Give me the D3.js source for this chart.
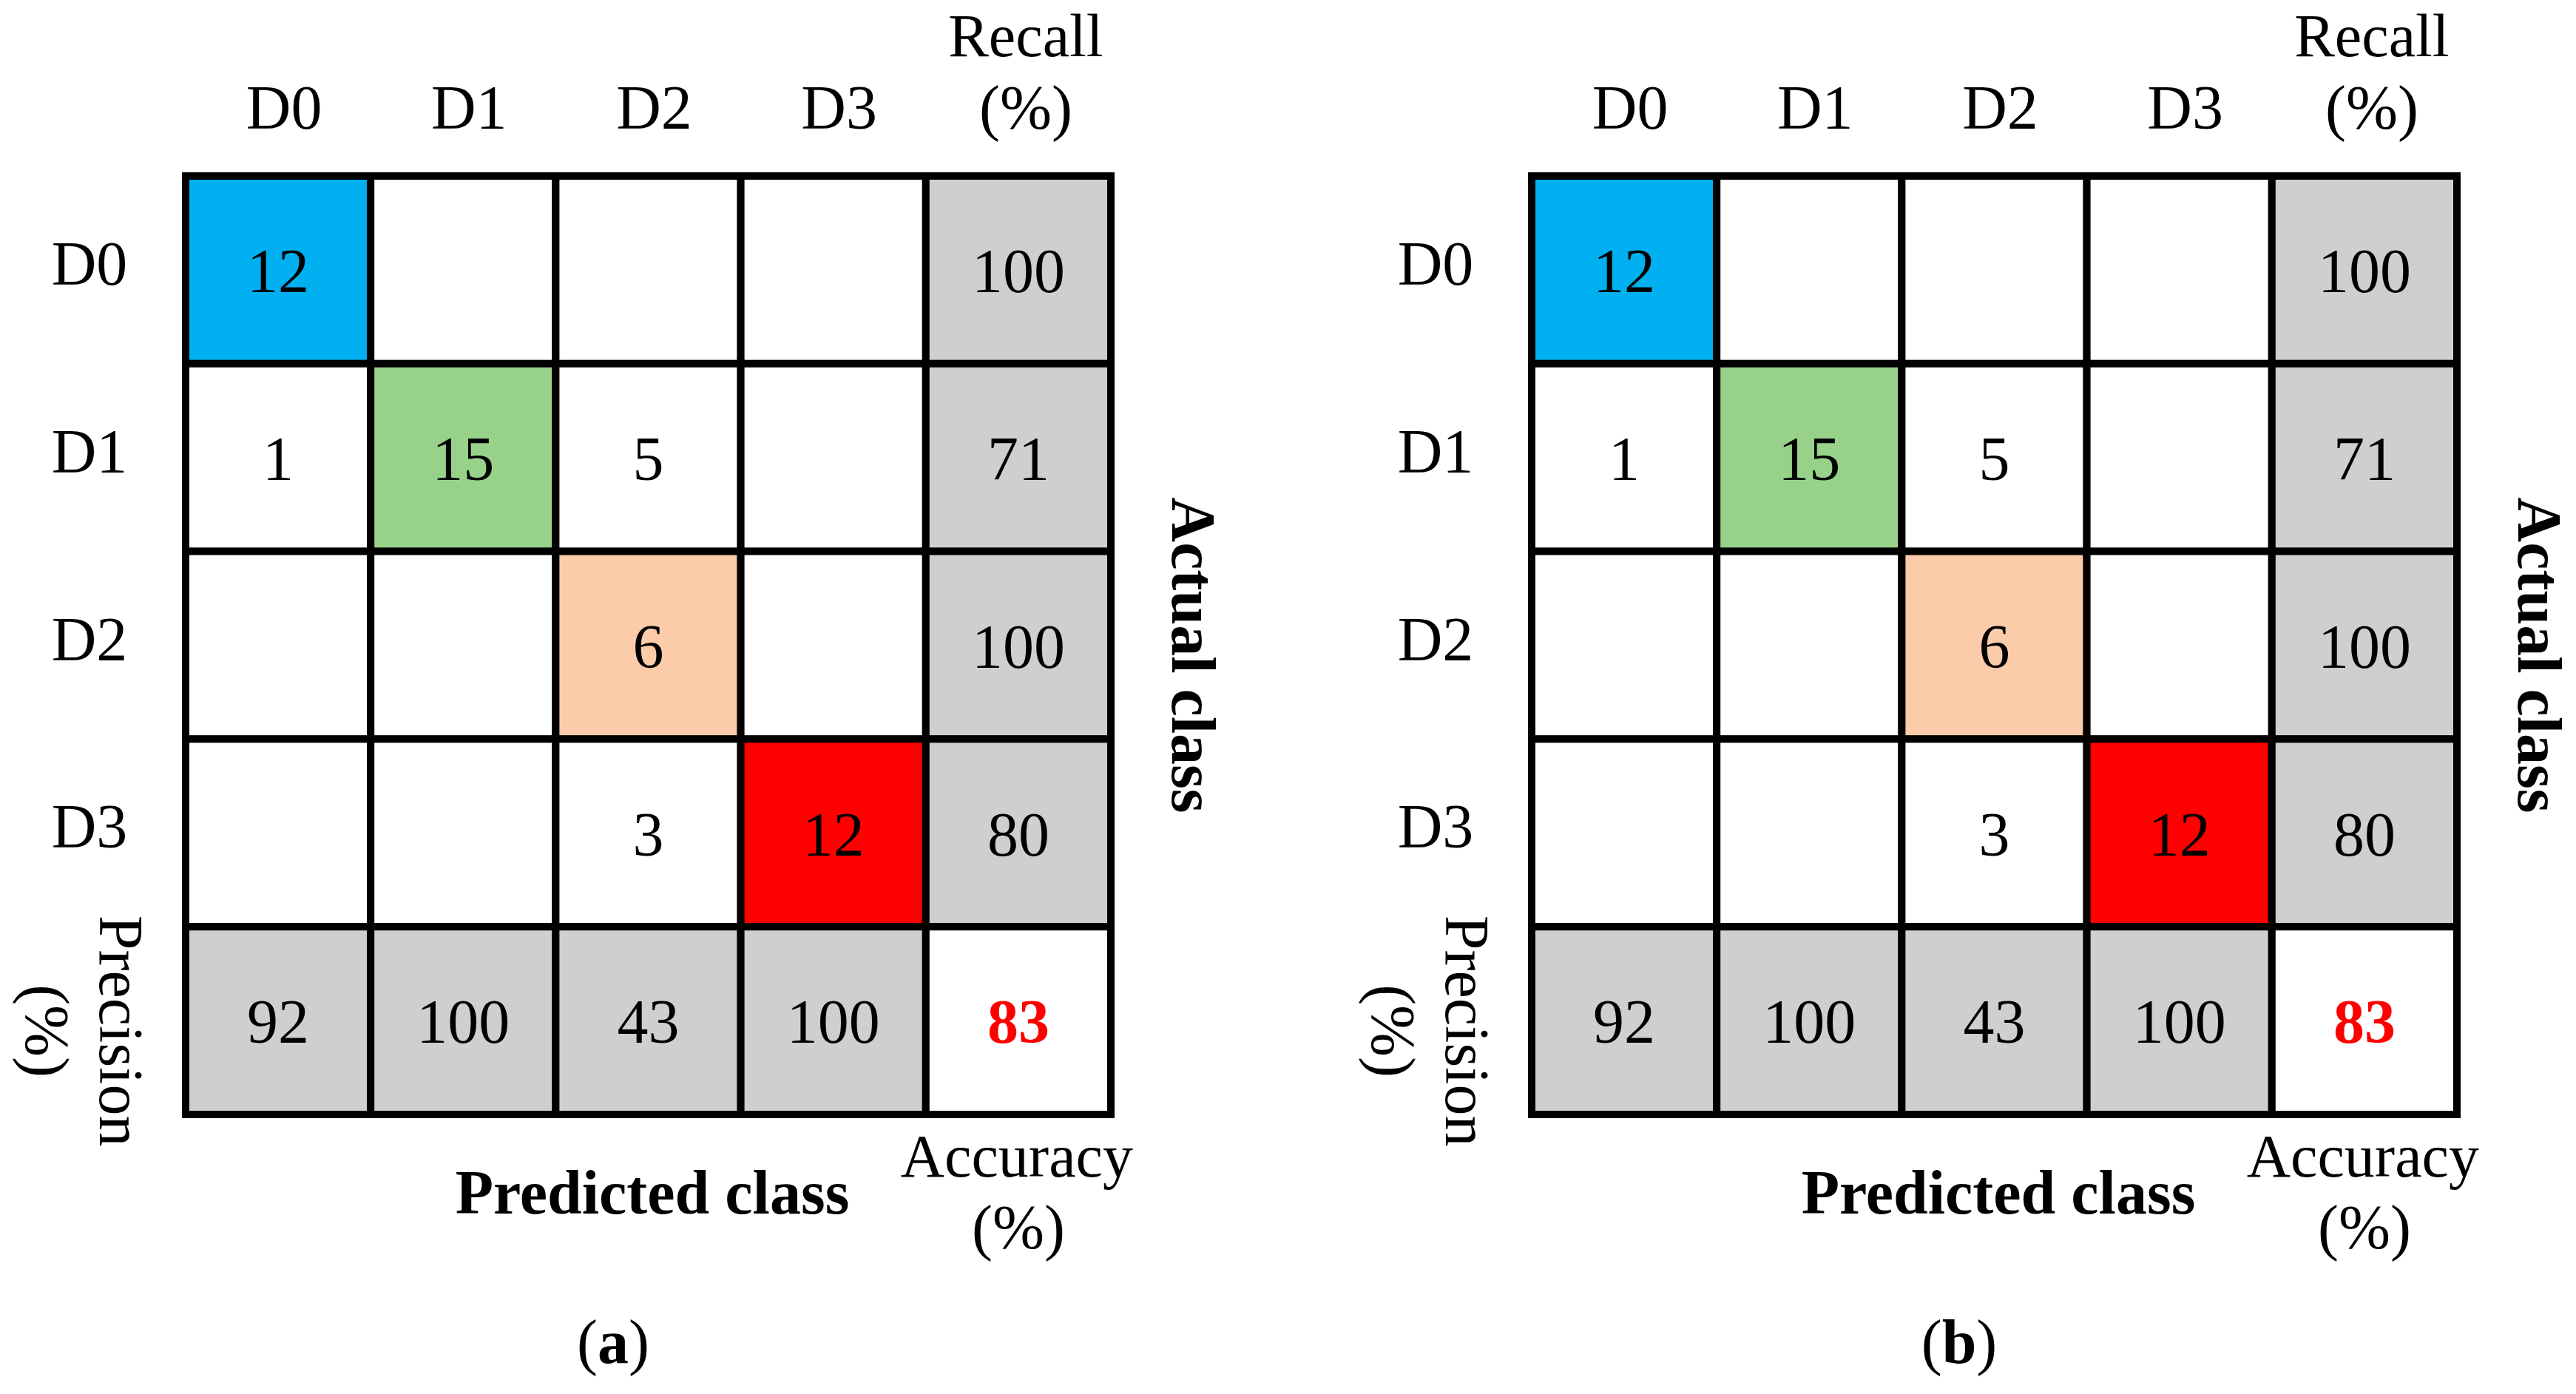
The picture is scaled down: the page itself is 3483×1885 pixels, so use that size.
<!DOCTYPE html>
<html>
<head>
<meta charset="utf-8">
<script src="https://cdn.jsdelivr.net/npm/d3@7"></script>
<style>
  html, body { margin: 0; padding: 0; background: #fff; }
  text { font-family: "Liberation Serif", "Times New Roman", serif; fill: #000; }
</style>
</head>
<body>
<div id="chart"></div>
<script>
// classes and confusion matrix values
var classes = ["D0", "D1", "D2", "D3"];
var counts = [
  [12, null, null, null],
  [1, 15, 5, null],
  [null, null, 6, null],
  [null, null, 3, 12]
];
var recall = [100, 71, 100, 80];
var precision = [92, 100, 43, 100];
var accuracy = 83;
var panels = ["a", "b"];

var diagColors = ["#00b0f0", "#98d18a", "#fbcbaa", "#ff0000"];
var summaryFill = "#d0cece";

var width = 3483, height = 1885;
var panelOffset = 1820;
var grid = { left: 251, top: 238, right: 1502, bottom: 1507 };

var svg = d3.select("#chart").append("svg")
    .attr("width", width)
    .attr("height", height);

var colKeys = classes.concat(["recall"]);
var rowKeys = classes.concat(["precision"]);

var x = d3.scaleBand()
    .domain(colKeys)
    .range([grid.left, grid.right]);

var y = d3.scaleBand()
    .domain(rowKeys)
    .range([grid.top, grid.bottom]);

// build the table of cells from the arrays
var cells = [];
counts.forEach(function(row, i) {
  row.forEach(function(v, j) {
    cells.push({ r: classes[i], c: classes[j], v: v, fill: i === j ? diagColors[i] : "#fff" });
  });
  cells.push({ r: classes[i], c: "recall", v: recall[i], fill: summaryFill });
});
precision.forEach(function(v, j) {
  cells.push({ r: "precision", c: classes[j], v: v, fill: summaryFill });
});
cells.push({ r: "precision", c: "recall", v: accuracy, fill: "#fff", acc: true });

panels.forEach(function(p, k) {
  var g = svg.append("g")
      .attr("transform", "translate(" + (k * panelOffset) + ",0)");

  g.selectAll("rect.cell")
    .data(cells)
    .enter().append("rect")
    .attr("class", "cell")
    .attr("x", function(d) { return x(d.c); })
    .attr("y", function(d) { return y(d.r); })
    .attr("width", x.bandwidth())
    .attr("height", y.bandwidth())
    .attr("fill", function(d) { return d.fill; })
    .attr("stroke", "#000")
    .attr("stroke-width", 10);

  g.selectAll("text.val")
    .data(cells.filter(function(d) { return d.v !== null; }))
    .enter().append("text")
    .attr("class", "val")
    .attr("x", function(d) { return x(d.c) + x.bandwidth() / 2; })
    .attr("y", function(d) { return y(d.r) + y.bandwidth() / 2; })
    .attr("dy", "0.36em")
    .attr("text-anchor", "middle")
    .style("font-size", "84px")
    .style("font-weight", function(d) { return d.acc ? "bold" : "normal"; })
    .style("fill", function(d) { return d.acc ? "#ff0000" : "#000"; })
    .text(function(d) { return d.v; });

  // column headers
  g.selectAll("text.colh")
    .data(classes)
    .enter().append("text")
    .attr("class", "colh")
    .attr("x", function(d) { return x(d) + x.bandwidth() / 2 + 8; })
    .attr("y", grid.top - 64)
    .attr("text-anchor", "middle")
    .style("font-size", "84px")
    .text(function(d) { return d; });

  // row headers
  g.selectAll("text.rowh")
    .data(classes)
    .enter().append("text")
    .attr("class", "rowh")
    .attr("x", grid.left - 130)
    .attr("y", function(d) { return y(d) + y.bandwidth() / 2 + 20; })
    .attr("text-anchor", "middle")
    .style("font-size", "84px")
    .text(function(d) { return d; });

  var rc = x("recall") + x.bandwidth() / 2 + 10;
  g.append("text").attr("x", rc).attr("y", 76).attr("text-anchor", "middle")
    .style("font-size", "82px").text("Recall");
  g.append("text").attr("x", rc).attr("y", 174).attr("text-anchor", "middle")
    .style("font-size", "84px").text("(%)");

  g.append("text")
    .attr("transform", "translate(1585,886) rotate(90)")
    .attr("text-anchor", "middle")
    .style("font-size", "84px")
    .style("font-weight", "bold")
    .text("Actual class");

  var pc = y("precision") + y.bandwidth() / 2 + 14;
  g.append("text")
    .attr("transform", "translate(135," + pc + ") rotate(90)")
    .attr("text-anchor", "middle")
    .style("font-size", "84px")
    .text("Precision");
  g.append("text")
    .attr("transform", "translate(35," + pc + ") rotate(90)")
    .attr("text-anchor", "middle")
    .style("font-size", "84px")
    .text("(%)");

  g.append("text")
    .attr("x", 882).attr("y", 1641)
    .attr("text-anchor", "middle")
    .style("font-size", "84px")
    .style("font-weight", "bold")
    .text("Predicted class");

  g.append("text").attr("x", rc - 12).attr("y", 1591).attr("text-anchor", "middle")
    .style("font-size", "82px").text("Accuracy");
  g.append("text").attr("x", rc - 10).attr("y", 1688).attr("text-anchor", "middle")
    .style("font-size", "84px").text("(%)");

  var lab = g.append("text")
    .attr("x", 829).attr("y", 1843)
    .attr("text-anchor", "middle")
    .style("font-size", "84px");
  lab.append("tspan").text("(");
  lab.append("tspan").style("font-weight", "bold").text(p);
  lab.append("tspan").text(")");
});
</script>
</body>
</html>
